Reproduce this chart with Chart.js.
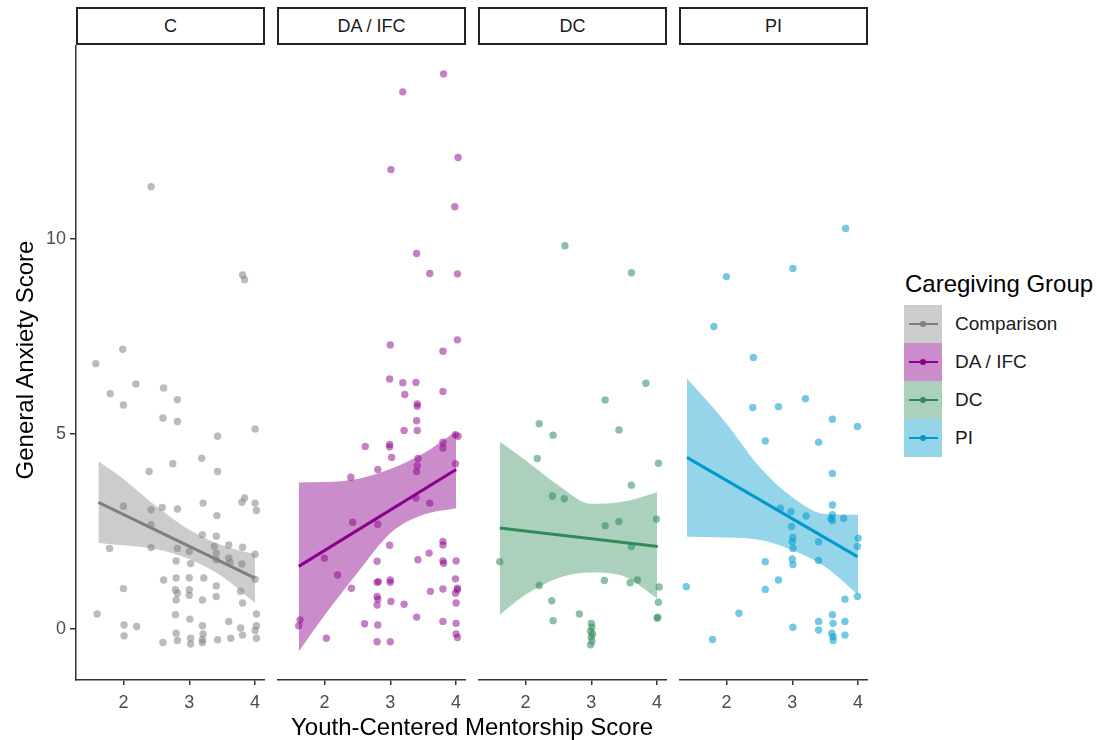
<!DOCTYPE html>
<html>
<head>
<meta charset="utf-8">
<title>General Anxiety by Youth-Centered Mentorship</title>
<script src="https://cdn.jsdelivr.net/npm/chart.js@4.4.1/dist/chart.umd.min.js"></script>
<style>
  body { margin: 0; background: #fff; font-family: "Liberation Sans", Arial, sans-serif; }
  #wrap { position: relative; width: 1105px; height: 740px; overflow: hidden; }
  #wrap canvas { position: absolute; top: 45px; }
  .strip { position: absolute; top: 7px; width: 189px; height: 38px; box-sizing: border-box;
           border: 2px solid #222; color: #1a1a1a; font-size: 18px; line-height: 34px; text-align: center; }
  .axis-title { position: absolute; color: #000; font-size: 24px; line-height: 24px; text-align: center; white-space: nowrap; }
  .legend-title { position: absolute; left: 905px; top: 272px; font-size: 24px; line-height: 24px; color: #000; }
  .key { position: absolute; left: 904px; width: 38px; height: 38px; }
  .key .ln { position: absolute; left: 5px; top: 18px; width: 29px; height: 2px; }
  .key .dot { position: absolute; left: 16px; top: 16px; width: 6px; height: 6px; border-radius: 50%; }
  .key-label { position: absolute; left: 955px; font-size: 19px; line-height: 38px; color: #1a1a1a; }
</style>
</head>
<body>
<div id="wrap"></div>
<script>
// ---- data ----
const panelLabels = ["C", "DA / IFC", "DC", "PI"];
const groupNames = ["Comparison", "DA / IFC", "DC", "PI"];
const xTicks = [2, 3, 4];
const yTicks = [0, 5, 10];

// Comparison (C)
const cX = [1.58, 1.80, 2.19, 2.00, 2.61, 2.82, 2.60, 2.82, 3.43, 4.00, 2.39, 2.75, 3.19, 3.43, 2.00, 2.42, 2.59, 2.82,
  3.21, 3.80, 3.84, 4.00, 4.02, 3.42, 2.42, 3.20, 3.41, 1.79, 2.42, 2.82, 3.00, 3.60, 3.81, 4.00, 3.38, 3.41, 3.41, 3.60,
  3.62, 2.80, 3.02, 3.80, 4.00, 2.00, 2.61, 2.80, 3.00, 3.22, 2.79, 2.82, 3.00, 3.00, 3.41, 3.41, 2.80, 3.20, 3.78, 3.81,
  1.60, 2.79, 3.01, 3.60, 4.02, 2.01, 2.20, 3.20, 3.78, 4.02, 4.00, 2.01, 2.80, 2.60, 2.82, 3.02, 3.02, 3.20, 3.20, 3.43,
  3.63, 3.81, 4.02, 3.21, 2.42, 3.81, 3.84, 1.99];
const cY = [6.80, 6.03, 6.28, 5.74, 6.18, 5.88, 5.41, 5.32, 4.94, 5.13, 4.04, 4.24, 4.38, 4.04, 3.15, 3.06, 3.12, 3.08,
  3.23, 3.25, 3.36, 3.23, 3.04, 2.91, 2.68, 2.42, 2.38, 2.07, 2.09, 2.07, 1.99, 2.16, 2.10, 1.92, 2.12, 1.95, 1.78, 1.82,
  1.71, 1.75, 1.68, 1.67, 1.28, 1.04, 1.26, 1.31, 1.32, 1.31, 1.01, 0.92, 1.01, 0.87, 1.11, 0.84, 0.75, 0.75, 0.97, 0.67,
  0.39, 0.37, 0.26, 0.20, 0.39, 0.11, 0.07, 0.09, 0.03, 0.09, -0.03, -0.17, -0.10, -0.34, -0.29, -0.23, -0.38, -0.27, -0.34, -0.27,
  -0.23, -0.15, -0.23, -0.12, 11.33, 9.07, 8.95, 7.17];
const cLineX = [1.62, 4.00];
const cLineY = [3.25, 1.31];
const cBandX = [1.62, 2.0, 2.5, 3.0, 3.5, 4.0];
const cBandHi = [4.30, 3.85, 3.15, 2.55, 2.15, 1.92];
const cBandLo = [2.21, 2.15, 2.05, 1.80, 1.35, 0.67];

// DA / IFC
const daX = [3.81, 3.19, 4.03, 3.01, 3.98, 3.40, 3.60, 4.02, 3.00, 3.80, 4.02, 2.99, 3.19, 3.22, 3.39, 3.80, 3.41, 3.41,
  3.40, 3.21, 3.41, 3.99, 4.03, 2.62, 2.99, 2.99, 3.02, 3.80, 3.80, 3.42, 3.41, 3.40, 2.81, 3.99, 2.40, 3.39, 3.60, 2.43,
  2.81, 2.99, 3.80, 3.80, 3.59, 3.42, 3.80, 3.81, 4.00, 2.00, 2.80, 2.20, 2.80, 2.82, 3.00, 3.00, 3.99, 4.02, 4.02, 3.99,
  2.41, 3.80, 3.61, 2.80, 2.81, 2.80, 3.01, 3.21, 4.00, 3.40, 3.80, 1.63, 1.61, 2.61, 2.81, 4.00, 4.00, 4.02, 2.03, 2.80,
  3.00];
const daY = [14.22, 13.76, 12.08, 11.77, 10.82, 9.62, 9.11, 9.10, 7.28, 7.12, 7.41, 6.41, 6.31, 6.01, 6.32, 6.09, 5.77, 5.71,
  5.34, 5.09, 5.09, 4.98, 4.94, 4.68, 4.73, 4.67, 4.40, 4.79, 4.64, 4.37, 4.19, 4.04, 4.09, 4.24, 3.89, 3.36, 3.23, 2.74,
  2.69, 2.15, 2.25, 2.16, 1.95, 1.78, 1.75, 1.69, 1.75, 1.82, 1.74, 1.39, 1.20, 1.22, 1.26, 1.20, 1.29, 1.05, 1.01, 0.92,
  1.05, 1.03, 0.97, 0.84, 0.77, 0.62, 0.71, 0.64, 0.67, 0.31, 0.20, 0.24, 0.09, 0.14, 0.11, 0.15, -0.12, -0.21, -0.23, -0.32,
  -0.32];
const daLineX = [1.61, 4.00];
const daLineY = [1.61, 4.09];
const daBandX = [1.61, 2.0, 2.5, 3.0, 3.5, 4.0];
const daBandHi = [3.76, 3.77, 3.85, 4.10, 4.50, 5.07];
const daBandLo = [-0.57, 0.35, 1.44, 2.46, 2.93, 3.10];

// DC
const dcX = [2.60, 3.61, 3.83, 3.21, 2.21, 2.42, 3.42, 2.18, 4.02, 3.61, 2.41, 2.59, 3.21, 3.42, 3.99, 3.61, 1.61, 2.21,
  3.20, 3.59, 3.70, 4.03, 2.40, 4.02, 2.42, 2.82, 4.01, 4.00, 3.00, 3.01, 2.99, 3.02, 3.00, 3.01, 2.99];
const dcY = [9.82, 9.13, 6.30, 5.87, 5.26, 4.97, 5.10, 4.37, 4.25, 3.69, 3.41, 3.34, 2.65, 2.76, 2.82, 2.12, 1.73, 1.12,
  1.25, 1.19, 1.26, 1.08, 0.73, 0.69, 0.22, 0.39, 0.31, 0.28, 0.15, 0.05, -0.05, -0.12, -0.20, -0.30, -0.40];
const dcLineX = [1.61, 4.01];
const dcLineY = [2.59, 2.12];
const dcBandX = [1.61, 2.0, 2.5, 3.0, 3.5, 4.0];
const dcBandHi = [4.80, 4.33, 3.69, 3.21, 3.27, 3.51];
const dcBandLo = [0.37, 0.88, 1.31, 1.45, 1.35, 0.79];

// PI
const piX = [3.81, 3.01, 2.00, 1.81, 2.41, 2.40, 2.79, 3.20, 3.61, 3.99, 2.59, 3.40, 3.61, 3.61, 2.82, 2.98, 3.21, 3.61,
  3.59, 3.61, 3.78, 2.99, 3.01, 3.00, 3.40, 4.00, 3.99, 3.01, 2.59, 3.00, 3.01, 3.40, 2.79, 2.59, 1.39, 3.80, 3.99, 2.19,
  3.01, 3.40, 3.61, 3.62, 3.80, 3.40, 3.60, 3.62, 3.62, 3.80, 1.79];
const piY = [10.26, 9.24, 9.03, 7.75, 6.96, 5.68, 5.70, 5.90, 5.38, 5.19, 4.82, 4.79, 3.99, 3.18, 3.10, 3.01, 2.90, 2.93,
  2.84, 2.78, 2.84, 2.63, 2.35, 2.24, 2.24, 2.33, 2.12, 2.07, 1.73, 1.80, 1.66, 1.76, 1.26, 1.02, 1.09, 0.77, 0.84, 0.41,
  0.05, 0.20, 0.37, 0.15, 0.20, -0.02, -0.10, -0.19, -0.29, -0.15, -0.26];
const piLineX = [1.40, 3.99];
const piLineY = [4.40, 1.86];
const piBandX = [1.40, 2.0, 2.5, 3.0, 3.5, 4.0];
const piBandHi = [6.42, 5.27, 4.16, 3.38, 2.95, 2.93];
const piBandLo = [2.37, 2.35, 2.29, 2.03, 1.60, 0.88];

// axis limits
const xMin = 1.28, xMax = 4.15;
const yMin = -1.3, yMax = 14.96;

// ---- styling ----
const panelLefts = [76, 277, 478, 679];
const panelWidth = 189;
const yAxisWidth = 76;
const lineColors = ["#7f7f7f", "#8b008b", "#2e8b57", "#009acd"];
const pointColors = ["rgba(125,125,125,0.52)", "rgba(139,0,139,0.5)", "rgba(46,139,87,0.55)", "rgba(0,154,205,0.55)"];
const bandColors = ["rgba(128,128,128,0.4)", "rgba(139,0,139,0.45)", "rgba(46,139,87,0.4)", "rgba(0,154,205,0.42)"];

function pts(xs, ys) {
  return xs.map((x, i) => ({ x: x, y: ys[i] }));
}

document.addEventListener("DOMContentLoaded", function () {
  const wrap = document.getElementById("wrap");

  const panels = [
    { x: cX, y: cY, lx: cLineX, ly: cLineY, bx: cBandX, hi: cBandHi, lo: cBandLo },
    { x: daX, y: daY, lx: daLineX, ly: daLineY, bx: daBandX, hi: daBandHi, lo: daBandLo },
    { x: dcX, y: dcY, lx: dcLineX, ly: dcLineY, bx: dcBandX, hi: dcBandHi, lo: dcBandLo },
    { x: piX, y: piY, lx: piLineX, ly: piLineY, bx: piBandX, hi: piBandHi, lo: piBandLo },
  ];

  panels.forEach((p, i) => {
    const showY = i === 0;

    // strip header
    const strip = document.createElement("div");
    strip.className = "strip";
    strip.style.left = panelLefts[i] + "px";
    strip.textContent = panelLabels[i];
    wrap.appendChild(strip);

    const canvas = document.createElement("canvas");
    const w = panelWidth + (showY ? yAxisWidth : 0);
    canvas.width = w;
    canvas.height = 695;
    canvas.style.left = (panelLefts[i] - (showY ? yAxisWidth : 0)) + "px";
    wrap.appendChild(canvas);

    new Chart(canvas.getContext("2d"), {
      type: "line",
      data: {
        datasets: [
          {
            // confidence band, upper edge filled down to the lower edge
            data: pts(p.bx, p.hi),
            borderColor: "rgba(0,0,0,0)",
            backgroundColor: bandColors[i],
            pointRadius: 0,
            fill: "+1",
            cubicInterpolationMode: "monotone",
            order: 3,
          },
          {
            data: pts(p.bx, p.lo),
            borderColor: "rgba(0,0,0,0)",
            pointRadius: 0,
            fill: false,
            cubicInterpolationMode: "monotone",
            order: 3,
          },
          {
            data: pts(p.x, p.y),
            showLine: false,
            pointRadius: 3.7,
            pointBackgroundColor: pointColors[i],
            pointBorderWidth: 0,
            pointBorderColor: "rgba(0,0,0,0)",
            order: 2,
          },
          {
            data: pts(p.lx, p.ly),
            borderColor: lineColors[i],
            borderWidth: 3,
            pointRadius: 0,
            fill: false,
            order: 1,
          },
        ],
      },
      options: {
        responsive: false,
        animation: false,
        events: [],
        layout: { padding: 0, autoPadding: false },
        plugins: {
          legend: { display: false },
          tooltip: { enabled: false },
        },
        scales: {
          x: {
            type: "linear",
            min: xMin,
            max: xMax,
            afterBuildTicks: (s) => { s.ticks = xTicks.map((v) => ({ value: v })); },
            afterFit: (s) => { s.height = 60; s.paddingLeft = 0; s.paddingRight = 0; },
            grid: { display: true, drawOnChartArea: false, drawTicks: true, tickLength: 5, tickColor: "#333", lineWidth: 1.5 },
            border: { display: true, color: "#333", width: 1.5 },
            ticks: { color: "#4d4d4d", font: { size: 18, family: "Liberation Sans" }, padding: 7, maxRotation: 0 },
          },
          y: {
            type: "linear",
            min: yMin,
            max: yMax,
            display: showY,
            afterBuildTicks: (s) => { s.ticks = yTicks.map((v) => ({ value: v })); },
            afterFit: (s) => { s.width = showY ? yAxisWidth : 0; s.paddingTop = 0; s.paddingBottom = 0; },
            grid: { display: true, drawOnChartArea: false, drawTicks: true, tickLength: 6, tickColor: "#333", lineWidth: 1.5 },
            border: { display: true, color: "#333", width: 1.5 },
            ticks: { color: "#4d4d4d", font: { size: 18, family: "Liberation Sans" }, padding: 4 },
          },
        },
      },
    });
  });

  // axis titles
  const yTitle = document.createElement("div");
  yTitle.className = "axis-title";
  yTitle.style.cssText = "left:-175px;top:348px;width:400px;transform:rotate(-90deg);";
  yTitle.textContent = "General Anxiety Score";
  wrap.appendChild(yTitle);

  const xTitle = document.createElement("div");
  xTitle.className = "axis-title";
  xTitle.style.cssText = "left:222px;top:715px;width:500px;";
  xTitle.textContent = "Youth-Centered Mentorship Score";
  wrap.appendChild(xTitle);

  // legend
  const lt = document.createElement("div");
  lt.className = "legend-title";
  lt.textContent = "Caregiving Group";
  wrap.appendChild(lt);

  groupNames.forEach((name, i) => {
    const top = 305 + i * 38;
    const key = document.createElement("div");
    key.className = "key";
    key.style.top = top + "px";
    key.style.background = bandColors[i];
    key.innerHTML = '<div class="ln" style="background:' + lineColors[i] + '"></div>' +
                    '<div class="dot" style="background:' + lineColors[i] + '"></div>';
    wrap.appendChild(key);

    const label = document.createElement("div");
    label.className = "key-label";
    label.style.top = top + "px";
    label.textContent = name;
    wrap.appendChild(label);
  });
});
</script>
</body>
</html>
